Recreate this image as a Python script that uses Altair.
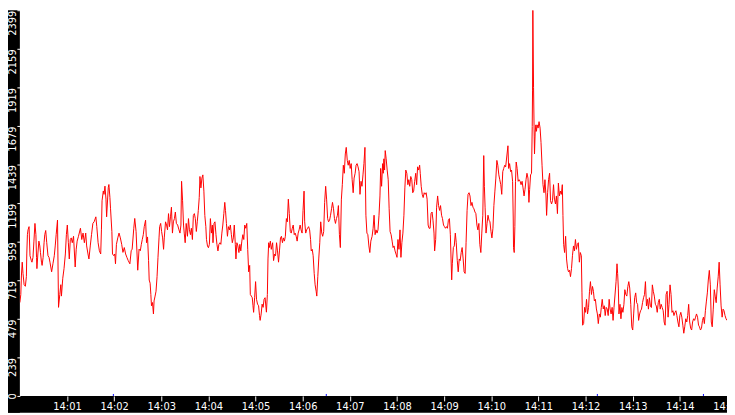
import altair as alt
import pandas as pd

# seconds after 14:00:00 and the value read at that moment
SECONDS = [
    0, 1.2, 2, 3, 4, 5.4, 7, 8.3, 8.8, 9.6,
    10.4, 11.7, 12.9, 14.6, 15.4, 16.7, 17.9, 19.2, 20.4, 21.2,
    21.7, 22.9, 24.2, 25.4, 26.2, 27.5, 28.3, 29.6, 30.8, 31.7,
    32.9, 34.2, 35.8, 37.1, 38.3, 40.4, 42.1, 43.8, 45, 46.2,
    47.9, 49.2, 50.8, 52.1, 52.9, 54.6, 56.2, 57.9, 59.2, 60.4,
    61.7, 62.9, 64.2, 65.4, 66.7, 68.3, 70.4, 71.7, 72.9, 74.6,
    77.1, 78.8, 80.4, 82.1, 83.8, 85, 86.7, 87.9, 89.6, 91.2,
    92.9, 94.6, 96.7, 97.9, 99.6, 101.2, 102.9, 103.8, 104.6, 106.2,
    107.1, 108.3, 109.6, 110.4, 112.5, 113.3, 114.6, 115.4, 117.1, 117.9,
    119.6, 120.8, 121.7, 122.9, 124.6, 126.2, 127.9, 129.6, 131.2, 132.9,
    134.6, 136.2, 137.9, 140, 141.7, 142.9, 145, 146.2, 147.9, 150,
    151.7, 153.3, 154.6,
    155.8, 157.1, 158.3, 160, 161.2, 162.5, 163.8, 164.6, 165.8, 166.7,
    167.5, 168.8, 170, 170.8, 172.1, 173.3, 174.6, 175.8, 177.1, 177.9,
    179.2, 180.4, 181.7, 182.9, 183.8, 185.4, 186.7, 187.9, 189.2, 190.4,
    191.7, 192.9, 194.2, 195.4, 196.7, 197.9, 199.2, 200.8, 202.5, 203.8,
    205, 205.8, 207.1, 208.3, 209.2, 210.4, 211.7, 213.3, 214.6, 215.8,
    217.1, 218.3, 219.6, 220.8, 222.1, 223.3, 224.6, 225.8, 227.1, 228.3,
    229.2, 230.4, 231.7, 232.9, 234.2, 235.4, 236.7, 237.5, 238.8, 240,
    241.2, 242.5, 243.8, 245, 245.8, 247.1, 248.3, 249.6, 250.8, 252.1,
    253.3, 254.6, 255.8, 257.1, 258.3, 259.6, 260.8, 261.7, 262.9, 264.2,
    265.4, 266.7, 267.9, 269.2, 270.4, 271.7, 272.9, 274.2, 275, 276.2,
    277.5, 278.8, 280, 281.2, 282.5, 283.8, 285, 286.2, 287.5, 288.8,
    290, 291.2, 292.5, 293.3, 294.6, 295.8, 296.7, 297.5, 298.8, 300,
    301.2, 302.5, 303.8, 305, 305.8, 307.1, 308.3, 309.6, 310.8, 312.1,
    313.8, 315, 315.8, 316.7, 317.5, 318.8, 320, 321.7, 322.9, 324.2,
    325.4, 326.7, 327.9, 329.2, 330.4, 331.7, 332.9, 334.2, 335.4, 336.7,
    337.9, 339.2, 340.4, 341.7, 342.9, 344.2, 345.4, 346.7, 347.9, 349.2,
    350.4, 351.7, 352.9, 354.2, 355.4, 356.7, 357.9, 359.2, 360.4, 361.7,
    362.5, 363.8, 365, 366.2, 367.5, 368.8, 370, 370.8, 372.1, 373.3,
    374.6, 375.8, 377.1, 377.9, 379.2, 380.4, 381.7, 382.9, 384.2, 385.4,
    386.7, 387.9, 389.2, 390.4, 391.7, 392.9, 394.2, 395.4, 396.7, 397.9,
    399.2, 400.4, 401.7, 402.9, 404.2, 405.4, 406.7, 407.9, 409.2, 410.4,
    411.7, 412.9, 414.2, 415.4, 416.7, 417.9, 419.2, 420.4, 421.7, 422.9,
    424.2, 425.4, 426.7, 427.9, 429.2, 430.4, 431.7, 432.9, 434.2, 435.4,
    436.7, 437.9, 439.2, 440.4, 441.7, 442.9, 444.2, 445.4, 446.7, 448.3,
    449.6, 450.8, 452.1, 453.3, 454.6, 455.8, 457.1, 458.3, 459.2, 460.4,
    461.7,
    462.5, 463.3, 464.2, 465, 466.2, 467.5, 468.8, 470, 471.2, 472.5,
    473.8, 475, 476.2, 477.5, 478.8, 480, 481.2, 482.5, 483.8, 485,
    486.2, 487.5, 488.8, 490, 491.2, 492.5, 493.8, 495, 496.2, 497.5,
    498.8, 500, 501.2, 502.5, 503.8, 505, 506.2, 507.5, 508.8, 509.6,
    510.8, 512.1, 513.3, 514.6, 515.8, 517.1, 518.3, 519.6, 520.8, 522.1,
    523.3, 524.6, 525.8, 527.1, 527.9, 529.2, 530.4, 531.7, 532.9, 534.2,
    535.4, 536.7, 537.9, 539.2, 540.4, 541.7, 542.9, 544.2, 545.4, 546.7,
    547.9, 548.8, 549.6, 550.4, 551.7, 552.9, 554.2, 555.4, 556.7, 557.9,
    559.2, 560.4, 561.7, 562.9, 564.2, 565.4, 566.7, 567.9, 569.2, 570.4,
    571.7, 572.9, 574.2, 575.4, 576.7, 577.9, 579.2, 580.4, 581.7, 582.9,
    584.2, 585.4, 586.7, 587.9, 589.2, 590.4, 591.2, 592.1, 593.3, 594.6,
    595.8, 597.1, 598.3, 599.6, 600.8, 602.1, 603.3, 604.6, 605.8, 607.1,
    608.3, 609.6, 610.8, 612.1, 613.3, 614.6, 615.8, 617.1, 618.3,
    621.2, 622.1, 623.3, 624.6, 625.8, 627.1, 627.9, 628.3, 629.2, 630,
    630.8, 631.7, 632.9, 634.2, 635.4, 636.7, 637.9, 639.2, 640.4, 641.7,
    642.9, 644.2, 645.4, 646.7, 647.9, 648.8, 650, 651.2, 652.1, 652.5,
    652.9, 653.8, 654.6, 655, 655.8, 656.7, 657.5, 658.3, 659.6, 660.8,
    662.1, 663.3, 664.6, 665.8, 667.1, 668.3, 669.6, 670.4, 671.7, 672.9,
    674.2, 675.4, 676.7, 677.9, 679.2, 680.4, 681.7, 682.9, 684.2, 685.4,
    686.7, 687.9, 689.2, 690.4, 691.2, 692.1, 693.3, 694.6, 695.8, 697.1,
    698.3, 699.6, 700.8, 702.1, 703.3, 704.6, 705.8, 707.1, 708.3, 709.6,
    710.8, 712.1, 713.3, 714.6, 715.4, 716.2, 717.5, 718.8, 720, 721.2,
    722.5, 723.8, 725, 726.2, 727.5, 728.8, 730, 731.2, 732.5, 733.8,
    735, 736.2, 737.5, 738.8, 740, 741.2, 742.5, 743.8, 745, 746.2,
    747.5, 748.8, 750, 751.2, 752.5, 753.8, 755, 756.2,
    758.8, 760, 760.8, 761.7, 762.5, 763.8, 765, 766.2, 767.5, 768.8,
    770, 771.2, 772.5, 773.8, 775, 776.2, 777.5, 778.8, 780, 781.2,
    782.5, 783.8, 785, 786.2, 787.5, 788.8, 790, 791.2, 792.5, 793.8,
    795, 796.2, 797.5, 798.8, 800, 801.2, 802.5, 803.8, 805, 806.2,
    807.5, 808.8, 810, 811.2, 812.5, 813.8, 815, 816.2, 817.5, 818.8,
    820, 821.2, 822.5, 823.8, 825, 826.2, 827.5, 828.8, 830, 831.2,
    832.5, 833.8, 835, 836.2, 837.5, 838.8, 840, 841.2, 842.5, 843.8,
    845, 846.2, 847.5, 848.8, 850, 851.2, 852.5, 853.8, 855, 856.2,
    857.5, 858.8, 860, 861.2, 862.5, 863.8, 865, 866.2, 867.5, 868.8,
    870, 871.2, 872.5, 873.8, 875, 876.2, 877.5, 878.8, 880, 881.2,
    882.5, 883.8, 885, 886.2, 887.5, 888.8, 890, 891.2, 892.5, 893.8,
    895, 896.2, 897.5, 898.8, 900,
]

VALUES = [
    581, 631, 752, 832, 762, 692, 682, 742, 883, 1003,
    1033, 1053, 872, 842, 832, 862, 963, 1073, 1003, 862,
    792, 883, 963, 933, 893, 832, 812, 862, 953, 1003,
    1029, 953, 872, 862, 832, 772, 822, 872, 933, 1003,
    1094, 551, 631, 692, 621, 732, 792, 883, 1003, 1063,
    953, 852, 973, 983, 953, 993, 802, 913, 963, 993,
    1043, 973, 1013, 953, 1013, 933, 883, 852, 933, 1003,
    1073, 1084, 1114, 1053, 953, 903, 883, 1033, 1214, 1275,
    1254, 1305, 1224, 1114, 1295, 1315, 1234, 1164, 1023, 883,
    872, 883, 822, 943, 983, 1013, 983, 943, 893, 923,
    883, 862, 842, 822, 903, 913, 1043, 1104, 1023, 782,
    913, 903, 943,
    973, 1003, 1053, 1093, 953, 989, 842, 721, 701, 631,
    561, 581, 510, 591, 621, 651, 742, 862, 983, 1053,
    1073, 1023, 983, 912, 983, 1083, 1063, 1033, 1134, 1053,
    1114, 1174, 1013, 1083, 1103, 1144, 1073, 1063, 1033, 1013,
    1063, 1335, 1214, 1063, 1013, 953, 1073, 993, 1103, 1033,
    1003, 1043, 973, 1123, 1134, 1103, 1023, 1083, 1154, 1234,
    1365, 1294, 1355, 1375, 1274, 1123, 1053, 973, 933, 922,
    943, 1103, 1013, 1063, 953, 1073, 1083, 1003, 943, 902,
    943, 953, 943, 1013, 1063, 1134, 1204, 1154, 1073, 993,
    1053, 1033, 1063, 1003, 953, 983, 1063, 943, 852, 953,
    933, 892, 943, 902, 963, 1003, 973, 1063, 1043, 1073,
    912, 772, 812, 631, 621, 611, 561, 520, 611, 711,
    601, 571, 561, 500, 470, 510, 571, 551, 601, 611,
    521, 631, 852, 953, 923, 963, 912, 953, 842, 882,
    872, 953, 902, 832, 902, 983, 993, 953, 983, 963,
    993, 1103, 1083, 1224, 1134, 1023, 1013, 1043, 1063, 1003,
    1013, 993, 963, 1013, 1033, 1063, 1033, 1013, 1154, 1274,
    1083, 1013, 1033, 1043, 1053, 1033, 973, 902, 912, 872,
    762, 691, 651, 621, 742, 852, 953, 1083, 1013, 993,
    1023, 1204, 1304, 1224, 1103, 1083, 1093, 1124, 1164, 1204,
    1164, 1103, 1073, 1103, 1124, 1184, 1003, 923, 1224, 1314,
    1435, 1385, 1505, 1546, 1465, 1435, 1465, 1415, 1445, 1345,
    1264, 1355, 1385, 1435, 1445, 1425, 1395, 1254, 1335, 1304,
    1375, 1445, 1546, 1124, 1013, 1003, 933, 892, 963, 993,
    1043, 1124, 1003, 1033, 1013, 1033, 1124, 1244, 1415, 1304,
    1445,
    1385, 1475, 1405, 1526, 1475, 1405, 1345, 1164, 1023, 1003,
    963, 923, 933, 902, 882, 862, 973, 912, 1033, 862,
    953, 1013, 1124, 1294, 1405, 1385, 1314, 1345, 1304, 1365,
    1345, 1264, 1274, 1335, 1385, 1314, 1425, 1405, 1435, 1385,
    1304, 1254, 1234, 1264, 1254, 1264, 1224, 1063, 1043, 1043,
    1134, 1144, 1093, 1013, 902, 973, 1174, 1244, 1184, 1154,
    1184, 1124, 1103, 1063, 1053, 1043, 1053, 1043, 1093, 1103,
    1003, 852, 722, 822, 923, 933, 1013, 953, 842, 772,
    852, 842, 892, 923, 852, 772, 762, 953, 1154, 1254,
    1264, 1244, 1184, 1204, 1174, 1164, 1144, 1134, 1063, 1033,
    1073, 943, 892, 1013, 1124, 1495, 1304, 1174, 1013, 1073,
    1124, 1093, 1083, 1023, 983, 1043, 1184, 1274, 1355, 1465,
    1435, 1375, 1345, 1314, 1254, 1395, 1415, 1435, 1425,
    1556, 1415, 1445, 1395, 1405, 1335, 1113, 922, 892, 1053,
    1335, 1455, 1415, 1335, 1345, 1335, 1314, 1335, 1294, 1244,
    1284, 1345, 1385, 1355, 1204, 1284, 1375, 1385, 1676, 1897,
    2399, 1917, 1616, 1505, 1636, 1686, 1646, 1686, 1666, 1706,
    1666, 1576, 1435, 1314, 1264, 1345, 1244, 1123, 1264, 1345,
    1385, 1214, 1194, 1214, 1314, 1224, 1194, 1244, 1134, 1324,
    1244, 1274, 1254, 1314, 1123, 943, 892, 993, 852, 792,
    772, 782, 742, 792, 872, 933, 902, 973, 912, 943,
    953, 832, 892, 872, 641, 440, 450, 551, 520, 601,
    510, 551, 651, 711, 631, 681, 651, 591, 601, 541,
    510, 450, 510, 490, 551, 601, 541, 561, 500, 551,
    541, 500, 601, 541, 510, 551, 470, 551,
    711, 822, 761, 671, 510, 570, 480, 550, 520, 570,
    661, 631, 621, 681, 711, 671, 570, 430, 410, 510,
    611, 641, 580, 570, 470, 510, 530, 540, 580, 611,
    631, 711, 560, 601, 540, 611, 560, 550, 691, 651,
    621, 570, 560, 520, 580, 601, 540, 570, 550, 530,
    460, 440, 631, 651, 490, 570, 691, 631, 520, 530,
    500, 520, 530, 500, 460, 430, 500, 520, 490, 440,
    390, 430, 480, 460, 500, 570, 460, 420, 410, 460,
    480, 470, 490, 510, 490, 440, 430, 410, 420, 470,
    490, 450, 530, 590, 641, 721, 781, 691, 460, 430,
    540, 661, 621, 580, 671, 741, 832, 691, 560, 490,
    540, 530, 500, 480, 470,
]

Y_TICKS = [0, 239, 479, 719, 959, 1199, 1439, 1679, 1919, 2159, 2399]
TICK_MINUTES = list(range(1, 16))  # 14:01 ... 14:15
MARKER_SECONDS = [119, 390, 735, 870]

assert len(SECONDS) == len(VALUES)

W, H = 715, 390
LEFT_BAND, BOTTOM_BAND = 12, 17

start = pd.Timestamp("2024-01-01 14:00:00")
df = pd.DataFrame({
    "time": start + pd.to_timedelta(SECONDS, unit="s"),
    "value": VALUES,
})
markers = pd.DataFrame({"time": start + pd.to_timedelta(MARKER_SECONDS, unit="s")})
bands = pd.DataFrame({"band": ["left", "bottom"]})


def at(minutes):
    return alt.DateTime(year=2024, month=1, date=1, hours=14, minutes=minutes)


x_scale = alt.Scale(domain=[at(0), at(15)])

# black frame strips behind the axes
left_band = alt.Chart(bands).transform_filter("datum.band == 'left'").mark_rect(color="black").encode(
    x=alt.value(-LEFT_BAND), x2=alt.value(0), y=alt.value(0), y2=alt.value(H + BOTTOM_BAND)
)
bottom_band = alt.Chart(bands).transform_filter("datum.band == 'bottom'").mark_rect(color="black").encode(
    x=alt.value(-LEFT_BAND), x2=alt.value(W), y=alt.value(H), y2=alt.value(H + BOTTOM_BAND)
)

line = alt.Chart(df).mark_line(color="#ff0000", strokeWidth=1, clip=True).encode(
    x=alt.X(
        "time:T",
        scale=x_scale,
        axis=alt.Axis(
            values=[at(m) for m in TICK_MINUTES],
            format="%H:%M",
            title=None,
            grid=False,
            domain=False,
            zindex=1,
            tickColor="white",
            tickSize=5,
            labelColor="white",
            labelFont="DejaVu Sans",
            labelFontSize=10,
            labelPadding=1,
            labelFlush=False,
            labelOverlap=False,
        ),
    ),
    y=alt.Y(
        "value:Q",
        scale=alt.Scale(domain=[0, 2399], nice=False, zero=True),
        axis=alt.Axis(
            values=Y_TICKS,
            format="d",
            title=None,
            grid=False,
            domain=False,
            zindex=1,
            tickColor="white",
            tickSize=3,
            labelAngle=270,
            labelAlign={"condition": {"test": "datum.value == 0", "value": "center"}, "value": "right"},
            labelBaseline="alphabetic",
            labelColor="white",
            labelFont="DejaVu Sans",
            labelFontSize=10,
            labelPadding=1,
            labelFlush=False,
            labelOverlap=False,
        ),
    ),
)

marks = alt.Chart(markers).mark_rule(color="#0000ff", strokeWidth=1).encode(
    x=alt.X("time:T", scale=x_scale),
    y=alt.value(H - 2),
    y2=alt.value(H),
)

chart = (
    alt.layer(left_band, bottom_band, line, marks)
    .properties(
        width=W,
        height=H,
        padding={"left": LEFT_BAND, "top": 0, "right": 0, "bottom": BOTTOM_BAND},
        autosize=alt.AutoSizeParams(type="none"),
        background="white",
    )
    .configure_view(fill="white", strokeWidth=0)
)

chart.save("out.html", embed_options={"renderer": "svg", "actions": False})
